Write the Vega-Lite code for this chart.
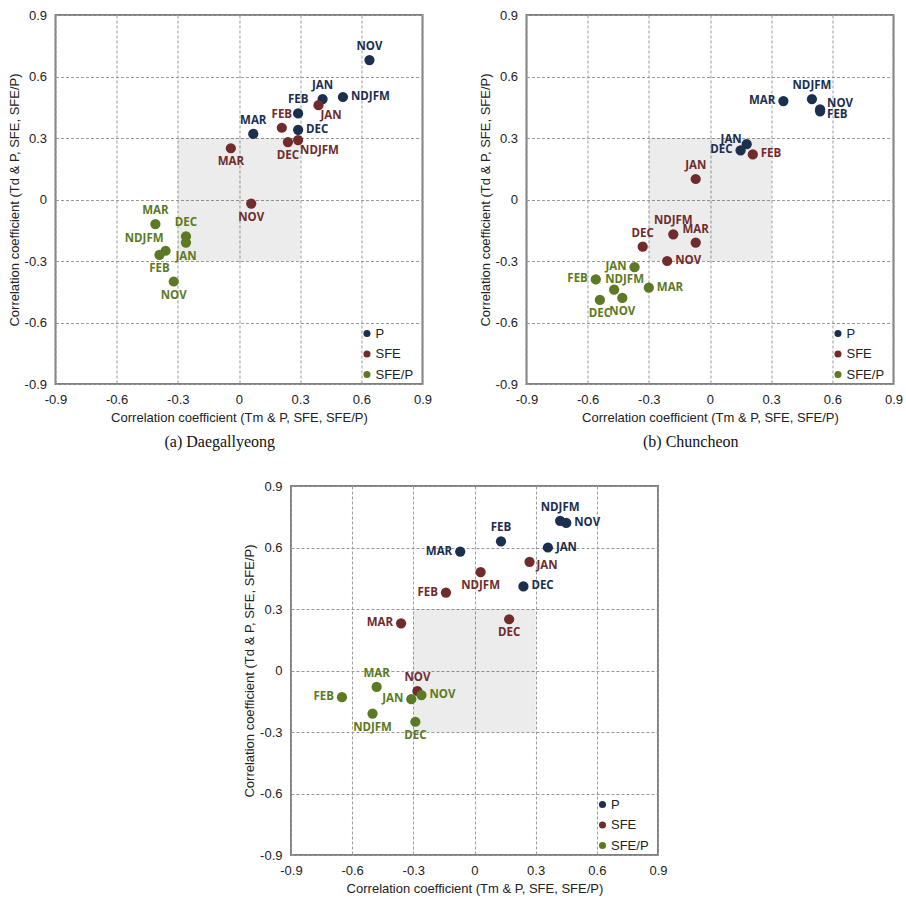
{
  "$schema": "https://vega.github.io/schema/vega-lite/v6.json",
  "padding": {"left": 7, "top": 8, "right": 5, "bottom": 0},
  "background": "white",
  "config": {
    "view": {"stroke": "#808080", "strokeWidth": 2},
    "axis": {"grid": true, "gridColor": "#9a9a9a", "gridDash": [3, 2], "gridWidth": 1, "domain": false, "ticks": false, "labelFlush": false,
      "labelFont": "Liberation Sans", "labelFontSize": 13, "labelColor": "#222", "labelPadding": 9,
      "titleFont": "Liberation Sans", "titleFontSize": 13, "titleFontWeight": "normal", "titleColor": "#222"},
    "axisY": {"titlePadding": 3},
    "axisX": {"titlePadding": 5},
    "text": {"font": "Open Sans", "fontSize": 11.5, "fontWeight": 700, "baseline": "middle"},
    "title": {"font": "Liberation Serif", "fontSize": 16, "fontWeight": "normal", "color": "#111"}
  },
  "datasets": {
    "shade": [{"x": -0.3, "x2": 0.3, "y": -0.3, "y2": 0.3}],
    "pts": [
      {"site": "a", "type": "P", "month": "NOV", "x": 0.64, "y": 0.68, "pos": "t"},
      {"site": "a", "type": "P", "month": "JAN", "x": 0.41, "y": 0.49, "pos": "t"},
      {"site": "a", "type": "P", "month": "NDJFM", "x": 0.51, "y": 0.50, "pos": "r"},
      {"site": "a", "type": "P", "month": "FEB", "x": 0.29, "y": 0.42, "pos": "t"},
      {"site": "a", "type": "P", "month": "DEC", "x": 0.29, "y": 0.34, "pos": "r"},
      {"site": "a", "type": "P", "month": "MAR", "x": 0.07, "y": 0.32, "pos": "t"},
      {"site": "a", "type": "SFE", "month": "JAN", "x": 0.39, "y": 0.46, "pos": "br"},
      {"site": "a", "type": "SFE", "month": "FEB", "x": 0.21, "y": 0.35, "pos": "t"},
      {"site": "a", "type": "SFE", "month": "DEC", "x": 0.24, "y": 0.28, "pos": "b"},
      {"site": "a", "type": "SFE", "month": "NDJFM", "x": 0.29, "y": 0.29, "pos": "br"},
      {"site": "a", "type": "SFE", "month": "MAR", "x": -0.04, "y": 0.25, "pos": "b"},
      {"site": "a", "type": "SFE", "month": "NOV", "x": 0.06, "y": -0.02, "pos": "b"},
      {"site": "a", "type": "SFE/P", "month": "MAR", "x": -0.41, "y": -0.12, "pos": "t"},
      {"site": "a", "type": "SFE/P", "month": "DEC", "x": -0.26, "y": -0.18, "pos": "t"},
      {"site": "a", "type": "SFE/P", "month": "JAN", "x": -0.26, "y": -0.21, "pos": "b"},
      {"site": "a", "type": "SFE/P", "month": "NDJFM", "x": -0.36, "y": -0.25, "pos": "tl"},
      {"site": "a", "type": "SFE/P", "month": "FEB", "x": -0.39, "y": -0.27, "pos": "b"},
      {"site": "a", "type": "SFE/P", "month": "NOV", "x": -0.32, "y": -0.40, "pos": "b"},
      {"site": "b", "type": "P", "month": "MAR", "x": 0.36, "y": 0.48, "pos": "l"},
      {"site": "b", "type": "P", "month": "NDJFM", "x": 0.50, "y": 0.49, "pos": "t"},
      {"site": "b", "type": "P", "month": "NOV", "x": 0.54, "y": 0.44, "pos": "rt"},
      {"site": "b", "type": "P", "month": "FEB", "x": 0.54, "y": 0.43, "pos": "rb"},
      {"site": "b", "type": "P", "month": "JAN", "x": 0.18, "y": 0.27, "pos": "lt"},
      {"site": "b", "type": "P", "month": "DEC", "x": 0.15, "y": 0.24, "pos": "l"},
      {"site": "b", "type": "SFE", "month": "FEB", "x": 0.21, "y": 0.22, "pos": "r"},
      {"site": "b", "type": "SFE", "month": "JAN", "x": -0.07, "y": 0.10, "pos": "t"},
      {"site": "b", "type": "SFE", "month": "NDJFM", "x": -0.18, "y": -0.17, "pos": "t"},
      {"site": "b", "type": "SFE", "month": "MAR", "x": -0.07, "y": -0.21, "pos": "t"},
      {"site": "b", "type": "SFE", "month": "DEC", "x": -0.33, "y": -0.23, "pos": "t"},
      {"site": "b", "type": "SFE", "month": "NOV", "x": -0.21, "y": -0.30, "pos": "r"},
      {"site": "b", "type": "SFE/P", "month": "JAN", "x": -0.37, "y": -0.33, "pos": "l"},
      {"site": "b", "type": "SFE/P", "month": "FEB", "x": -0.56, "y": -0.39, "pos": "l"},
      {"site": "b", "type": "SFE/P", "month": "NDJFM", "x": -0.47, "y": -0.44, "pos": "tr"},
      {"site": "b", "type": "SFE/P", "month": "MAR", "x": -0.30, "y": -0.43, "pos": "r"},
      {"site": "b", "type": "SFE/P", "month": "NOV", "x": -0.43, "y": -0.48, "pos": "b"},
      {"site": "b", "type": "SFE/P", "month": "DEC", "x": -0.54, "y": -0.49, "pos": "b"},
      {"site": "c", "type": "P", "month": "NDJFM", "x": 0.42, "y": 0.73, "pos": "t"},
      {"site": "c", "type": "P", "month": "NOV", "x": 0.45, "y": 0.72, "pos": "r"},
      {"site": "c", "type": "P", "month": "FEB", "x": 0.13, "y": 0.63, "pos": "t"},
      {"site": "c", "type": "P", "month": "JAN", "x": 0.36, "y": 0.60, "pos": "r"},
      {"site": "c", "type": "P", "month": "MAR", "x": -0.07, "y": 0.58, "pos": "l"},
      {"site": "c", "type": "P", "month": "DEC", "x": 0.24, "y": 0.41, "pos": "r"},
      {"site": "c", "type": "SFE", "month": "JAN", "x": 0.27, "y": 0.53, "pos": "rb"},
      {"site": "c", "type": "SFE", "month": "NDJFM", "x": 0.03, "y": 0.48, "pos": "b"},
      {"site": "c", "type": "SFE", "month": "FEB", "x": -0.14, "y": 0.38, "pos": "l"},
      {"site": "c", "type": "SFE", "month": "MAR", "x": -0.36, "y": 0.23, "pos": "l"},
      {"site": "c", "type": "SFE", "month": "DEC", "x": 0.17, "y": 0.25, "pos": "b"},
      {"site": "c", "type": "SFE", "month": "NOV", "x": -0.28, "y": -0.10, "pos": "t"},
      {"site": "c", "type": "SFE/P", "month": "MAR", "x": -0.48, "y": -0.08, "pos": "t"},
      {"site": "c", "type": "SFE/P", "month": "FEB", "x": -0.65, "y": -0.13, "pos": "l"},
      {"site": "c", "type": "SFE/P", "month": "JAN", "x": -0.31, "y": -0.14, "pos": "l"},
      {"site": "c", "type": "SFE/P", "month": "NOV", "x": -0.26, "y": -0.12, "pos": "r"},
      {"site": "c", "type": "SFE/P", "month": "NDJFM", "x": -0.50, "y": -0.21, "pos": "b"},
      {"site": "c", "type": "SFE/P", "month": "DEC", "x": -0.29, "y": -0.25, "pos": "b"}
    ]
  },
  "spacing": 28,
  "center": true,
  "resolve": {"legend": {"color": "independent"}},
  "vconcat": [
    {
      "spacing": 44,
      "resolve": {"legend": {"color": "independent"}},
      "hconcat": [
        {
          "width": 367, "height": 369,
          "title": {"text": "(a)  Daegallyeong", "orient": "bottom", "frame": "bounds", "anchor": "middle", "offset": 10},
          "layer": [
            {"data": {"name": "shade"}, "mark": {"type": "rect", "color": "#000", "opacity": 0.075},
             "encoding": {
               "x": {"field": "x", "type": "quantitative", "scale": {"domain": [-0.9, 0.9], "nice": false, "zero": false},
                     "axis": {"values": [-0.9, -0.6, -0.3, 0, 0.3, 0.6, 0.9], "title": "Correlation coefficient (Tm & P, SFE, SFE/P)", "labelExpr": "datum.value === 0 ? '0' : replace(format(datum.value, '.1f'), '\u2212', '-')"}},
               "x2": {"field": "x2"},
               "y": {"field": "y", "type": "quantitative", "scale": {"domain": [-0.9, 0.9], "nice": false, "zero": false},
                     "axis": {"values": [-0.9, -0.6, -0.3, 0, 0.3, 0.6, 0.9], "title": "Correlation coefficient (Td & P, SFE, SFE/P)", "labelExpr": "datum.value === 0 ? '0' : replace(format(datum.value, '.1f'), '\u2212', '-')"}},
               "y2": {"field": "y2"}}},
            {"data": {"name": "pts"}, "transform": [{"filter": "datum.site === 'a'"}],
             "mark": {"type": "circle", "size": 105, "opacity": 1},
             "encoding": {
               "x": {"field": "x", "type": "quantitative"},
               "y": {"field": "y", "type": "quantitative"},
               "color": {"field": "type", "type": "nominal", "scale": {"domain": ["P", "SFE", "SFE/P"], "range": ["#1b2f4f", "#722b2b", "#5c7a24"]},
                         "legend": {"orient": "none", "legendX": 305, "legendY": 312, "title": null, "symbolType": "circle", "symbolSize": 50, "symbolStrokeWidth": 0, "labelFont": "Liberation Sans", "labelFontSize": 13, "labelColor": "#222", "rowPadding": 6.5, "padding": 0, "labelOffset": 2}}}},
            {"data": {"name": "pts"}, "transform": [{"filter": "datum.site === 'a'"}],
             "encoding": {
               "x": {"field": "x", "type": "quantitative"},
               "y": {"field": "y", "type": "quantitative"},
               "text": {"field": "month"},
               "color": {"field": "type", "type": "nominal"}},
             "layer": [
               {"transform": [{"filter": "datum.pos === 't'"}], "mark": {"type": "text", "align": "center", "dy": -13}},
               {"transform": [{"filter": "datum.pos === 'b'"}], "mark": {"type": "text", "align": "center", "dy": 14}},
               {"transform": [{"filter": "datum.pos === 'l'"}], "mark": {"type": "text", "align": "right", "dx": -8}},
               {"transform": [{"filter": "datum.pos === 'r'"}], "mark": {"type": "text", "align": "left", "dx": 8}},
               {"transform": [{"filter": "datum.pos === 'tl'"}], "mark": {"type": "text", "align": "right", "dx": -2, "dy": -12}},
               {"transform": [{"filter": "datum.pos === 'tr'"}], "mark": {"type": "text", "align": "left", "dx": -9, "dy": -10}},
               {"transform": [{"filter": "datum.pos === 'br'"}], "mark": {"type": "text", "align": "left", "dx": 2, "dy": 11}},
               {"transform": [{"filter": "datum.pos === 'lt'"}], "mark": {"type": "text", "align": "right", "dx": -5, "dy": -4}},
               {"transform": [{"filter": "datum.pos === 'rt'"}], "mark": {"type": "text", "align": "left", "dx": 7, "dy": -5}},
               {"transform": [{"filter": "datum.pos === 'rb'"}], "mark": {"type": "text", "align": "left", "dx": 7, "dy": 4}}
             ]}
          ]
        },
        {
          "width": 367, "height": 369,
          "title": {"text": "(b)  Chuncheon", "orient": "bottom", "frame": "bounds", "anchor": "middle", "offset": 10},
          "layer": [
            {"data": {"name": "shade"}, "mark": {"type": "rect", "color": "#000", "opacity": 0.075},
             "encoding": {
               "x": {"field": "x", "type": "quantitative", "scale": {"domain": [-0.9, 0.9], "nice": false, "zero": false},
                     "axis": {"values": [-0.9, -0.6, -0.3, 0, 0.3, 0.6, 0.9], "title": "Correlation coefficient (Tm & P, SFE, SFE/P)", "labelExpr": "datum.value === 0 ? '0' : replace(format(datum.value, '.1f'), '\u2212', '-')"}},
               "x2": {"field": "x2"},
               "y": {"field": "y", "type": "quantitative", "scale": {"domain": [-0.9, 0.9], "nice": false, "zero": false},
                     "axis": {"values": [-0.9, -0.6, -0.3, 0, 0.3, 0.6, 0.9], "title": "Correlation coefficient (Td & P, SFE, SFE/P)", "labelExpr": "datum.value === 0 ? '0' : replace(format(datum.value, '.1f'), '\u2212', '-')"}},
               "y2": {"field": "y2"}}},
            {"data": {"name": "pts"}, "transform": [{"filter": "datum.site === 'b'"}],
             "mark": {"type": "circle", "size": 105, "opacity": 1},
             "encoding": {
               "x": {"field": "x", "type": "quantitative"},
               "y": {"field": "y", "type": "quantitative"},
               "color": {"field": "type", "type": "nominal", "scale": {"domain": ["P", "SFE", "SFE/P"], "range": ["#1b2f4f", "#722b2b", "#5c7a24"]},
                         "legend": {"orient": "none", "legendX": 305, "legendY": 312, "title": null, "symbolType": "circle", "symbolSize": 50, "symbolStrokeWidth": 0, "labelFont": "Liberation Sans", "labelFontSize": 13, "labelColor": "#222", "rowPadding": 6.5, "padding": 0, "labelOffset": 2}}}},
            {"data": {"name": "pts"}, "transform": [{"filter": "datum.site === 'b'"}],
             "encoding": {
               "x": {"field": "x", "type": "quantitative"},
               "y": {"field": "y", "type": "quantitative"},
               "text": {"field": "month"},
               "color": {"field": "type", "type": "nominal"}},
             "layer": [
               {"transform": [{"filter": "datum.pos === 't'"}], "mark": {"type": "text", "align": "center", "dy": -13}},
               {"transform": [{"filter": "datum.pos === 'b'"}], "mark": {"type": "text", "align": "center", "dy": 14}},
               {"transform": [{"filter": "datum.pos === 'l'"}], "mark": {"type": "text", "align": "right", "dx": -8}},
               {"transform": [{"filter": "datum.pos === 'r'"}], "mark": {"type": "text", "align": "left", "dx": 8}},
               {"transform": [{"filter": "datum.pos === 'tl'"}], "mark": {"type": "text", "align": "right", "dx": -2, "dy": -12}},
               {"transform": [{"filter": "datum.pos === 'tr'"}], "mark": {"type": "text", "align": "left", "dx": -9, "dy": -10}},
               {"transform": [{"filter": "datum.pos === 'br'"}], "mark": {"type": "text", "align": "left", "dx": 2, "dy": 11}},
               {"transform": [{"filter": "datum.pos === 'lt'"}], "mark": {"type": "text", "align": "right", "dx": -5, "dy": -4}},
               {"transform": [{"filter": "datum.pos === 'rt'"}], "mark": {"type": "text", "align": "left", "dx": 7, "dy": -5}},
               {"transform": [{"filter": "datum.pos === 'rb'"}], "mark": {"type": "text", "align": "left", "dx": 7, "dy": 4}}
             ]}
          ]
        }
      ]
    },
    {
      "width": 367, "height": 369,
      "layer": [
        {"data": {"name": "shade"}, "mark": {"type": "rect", "color": "#000", "opacity": 0.075},
         "encoding": {
           "x": {"field": "x", "type": "quantitative", "scale": {"domain": [-0.9, 0.9], "nice": false, "zero": false},
                 "axis": {"values": [-0.9, -0.6, -0.3, 0, 0.3, 0.6, 0.9], "title": "Correlation coefficient (Tm & P, SFE, SFE/P)", "labelExpr": "datum.value === 0 ? '0' : replace(format(datum.value, '.1f'), '\u2212', '-')"}},
           "x2": {"field": "x2"},
           "y": {"field": "y", "type": "quantitative", "scale": {"domain": [-0.9, 0.9], "nice": false, "zero": false},
                 "axis": {"values": [-0.9, -0.6, -0.3, 0, 0.3, 0.6, 0.9], "title": "Correlation coefficient (Td & P, SFE, SFE/P)", "labelExpr": "datum.value === 0 ? '0' : replace(format(datum.value, '.1f'), '\u2212', '-')"}},
           "y2": {"field": "y2"}}},
        {"data": {"name": "pts"}, "transform": [{"filter": "datum.site === 'c'"}],
         "mark": {"type": "circle", "size": 105, "opacity": 1},
         "encoding": {
           "x": {"field": "x", "type": "quantitative"},
           "y": {"field": "y", "type": "quantitative"},
           "color": {"field": "type", "type": "nominal", "scale": {"domain": ["P", "SFE", "SFE/P"], "range": ["#1b2f4f", "#722b2b", "#5c7a24"]},
                     "legend": {"orient": "none", "legendX": 305, "legendY": 312, "title": null, "symbolType": "circle", "symbolSize": 50, "symbolStrokeWidth": 0, "labelFont": "Liberation Sans", "labelFontSize": 13, "labelColor": "#222", "rowPadding": 6.5, "padding": 0, "labelOffset": 2}}}},
        {"data": {"name": "pts"}, "transform": [{"filter": "datum.site === 'c'"}],
         "encoding": {
           "x": {"field": "x", "type": "quantitative"},
           "y": {"field": "y", "type": "quantitative"},
           "text": {"field": "month"},
           "color": {"field": "type", "type": "nominal"}},
         "layer": [
           {"transform": [{"filter": "datum.pos === 't'"}], "mark": {"type": "text", "align": "center", "dy": -13}},
           {"transform": [{"filter": "datum.pos === 'b'"}], "mark": {"type": "text", "align": "center", "dy": 14}},
           {"transform": [{"filter": "datum.pos === 'l'"}], "mark": {"type": "text", "align": "right", "dx": -8}},
           {"transform": [{"filter": "datum.pos === 'r'"}], "mark": {"type": "text", "align": "left", "dx": 8}},
           {"transform": [{"filter": "datum.pos === 'tl'"}], "mark": {"type": "text", "align": "right", "dx": -2, "dy": -12}},
           {"transform": [{"filter": "datum.pos === 'tr'"}], "mark": {"type": "text", "align": "left", "dx": -9, "dy": -10}},
           {"transform": [{"filter": "datum.pos === 'br'"}], "mark": {"type": "text", "align": "left", "dx": 2, "dy": 11}},
           {"transform": [{"filter": "datum.pos === 'lt'"}], "mark": {"type": "text", "align": "right", "dx": -5, "dy": -4}},
           {"transform": [{"filter": "datum.pos === 'rt'"}], "mark": {"type": "text", "align": "left", "dx": 7, "dy": -5}},
           {"transform": [{"filter": "datum.pos === 'rb'"}], "mark": {"type": "text", "align": "left", "dx": 7, "dy": 4}}
         ]}
      ]
    }
  ]
}
